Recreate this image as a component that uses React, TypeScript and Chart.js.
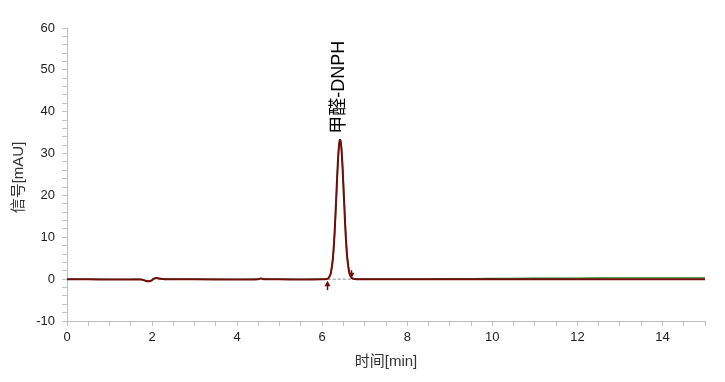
import React, { useEffect, useRef } from "react";
import { Chart, registerables } from "chart.js";

Chart.register(...registerables);

// retention time [min]
const times = [
  0, 0.5, 1.0, 1.5, 1.75, 1.82, 1.9, 1.97, 2.03, 2.1, 2.18, 2.3, 3.0, 4.0, 4.5, 4.56, 4.62, 5.0, 5.5,
  6.0, 6.1, 6.15, 6.2, 6.25, 6.28, 6.3, 6.33, 6.35, 6.37, 6.39, 6.41, 6.42, 6.43, 6.45, 6.47, 6.49,
  6.51, 6.54, 6.56, 6.59, 6.64, 6.69, 6.75, 7.0, 8.0, 9.0, 10.0, 11.0, 12.0, 13.0, 14.0, 15.0,
];

// signal [mAU], dark red trace
const signalRed = [
  0, -0.05, -0.1, -0.1, -0.1, -0.3, -0.5, -0.4, 0.0, 0.25, 0.1, 0.0, -0.05, -0.1, 0.0, 0.15, 0.0, -0.05, -0.1,
  -0.05, 0, 0.27, 1.36, 4.93, 9.12, 12.9, 19.5, 24.1, 28.2, 31.4, 33.1, 33.3, 33.1, 31.4, 28.2, 24.1,
  19.5, 12.9, 9.1, 4.9, 1.4, 0.3, 0.05, 0.0, 0.0, 0.0, -0.05, -0.05, -0.05, 0.0, -0.05, -0.05,
];

// signal [mAU], green trace
const signalGreen = [
  0, -0.02, -0.05, -0.05, -0.05, -0.25, -0.45, -0.35, 0.05, 0.3, 0.15, 0.05, 0.0, -0.05, 0.05, 0.2, 0.05, 0.0, -0.05,
  0.0, 0.03, 0.24, 1.25, 4.6, 8.6, 12.3, 18.8, 23.5, 27.7, 31.1, 33.0, 33.3, 33.2, 31.9, 28.9, 25.0,
  20.4, 13.7, 9.8, 5.4, 1.6, 0.35, 0.08, 0.05, 0.05, 0.1, 0.15, 0.2, 0.25, 0.3, 0.3, 0.3,
];

const peakName = "甲醛-DNPH";
const peakApexTime = 6.42;
const peakApexValue = 33.3;
const peakStartTime = 6.13;
const peakEndTime = 6.69;

const xTitle = "时间[min]";
const yTitle = "信号[mAU]";

const FONT = "'Liberation Sans', Arial, 'Noto Sans CJK SC', sans-serif";

export default function App() {
  const ref = useRef<HTMLCanvasElement | null>(null);

  useEffect(() => {
    if (!ref.current) return;
    const red = "rgb(115,12,12)";
    const overlay = {
      id: "overlay",
      beforeDatasetsDraw(chart: any) {
        const ctx = chart.ctx;
        const x = chart.scales.x;
        const y = chart.scales.y;
        ctx.save();
        ctx.strokeStyle = "#888";
        ctx.lineWidth = 1;
        ctx.setLineDash([3, 2]);
        ctx.beginPath();
        ctx.moveTo(x.getPixelForValue(peakStartTime), y.getPixelForValue(0));
        ctx.lineTo(x.getPixelForValue(peakEndTime), y.getPixelForValue(0));
        ctx.stroke();
        ctx.restore();
      },
      afterDraw(chart: any) {
        const ctx = chart.ctx;
        const x = chart.scales.x;
        const y = chart.scales.y;
        const area = chart.chartArea;
        ctx.save();
        // axis titles
        ctx.fillStyle = "#333";
        ctx.font = `15px ${FONT}`;
        ctx.textAlign = "center";
        ctx.textBaseline = "middle";
        ctx.fillText(xTitle, (area.left + area.right) / 2, 362);
        ctx.save();
        ctx.translate(19, (area.top + area.bottom) / 2 + 3);
        ctx.rotate(-Math.PI / 2);
        ctx.fillText(yTitle, 0, 0);
        ctx.restore();

        // peak label
        const px = x.getPixelForValue(peakApexTime);
        const py = y.getPixelForValue(peakApexValue);
        ctx.save();
        ctx.fillStyle = "#000";
        ctx.font = `18px ${FONT}`;
        ctx.translate(px - 1, py - 6);
        ctx.rotate(-Math.PI / 2);
        ctx.textAlign = "left";
        ctx.textBaseline = "middle";
        ctx.fillText(peakName, 0, 0);
        ctx.restore();

        // peak start / end markers
        const y0 = y.getPixelForValue(0);
        ctx.strokeStyle = red;
        ctx.fillStyle = red;
        ctx.lineWidth = 1.5;
        const sx = Math.round(x.getPixelForValue(peakStartTime)) - 0.5;
        ctx.beginPath();
        ctx.moveTo(sx, y0 + 11);
        ctx.lineTo(sx, y0 + 5);
        ctx.stroke();
        ctx.beginPath();
        ctx.moveTo(sx, y0 + 1.5);
        ctx.lineTo(sx - 3, y0 + 7);
        ctx.lineTo(sx + 3, y0 + 7);
        ctx.closePath();
        ctx.fill();
        const ex = Math.round(x.getPixelForValue(peakEndTime)) - 0.5;
        ctx.beginPath();
        ctx.moveTo(ex, y0 - 9);
        ctx.lineTo(ex, y0 - 4);
        ctx.stroke();
        ctx.beginPath();
        ctx.moveTo(ex, y0 - 1);
        ctx.lineTo(ex - 3, y0 - 6.5);
        ctx.lineTo(ex + 3, y0 - 6.5);
        ctx.closePath();
        ctx.fill();
        ctx.restore();
      },
    };

    const chart = new Chart(ref.current, {
      type: "line",
      data: {
        datasets: [
          {
            data: times.map((t, i) => ({ x: t, y: signalRed[i] })),
            borderColor: red,
            borderWidth: 2,
            pointRadius: 0,
            tension: 0.3,
            order: 0,
          },
          {
            data: times.map((t, i) => ({ x: t, y: signalGreen[i] })),
            borderColor: "rgb(30,130,30)",
            borderWidth: 1.4,
            pointRadius: 0,
            tension: 0.3,
            order: 1,
          },
        ],
      },
      options: {
        animation: false,
        responsive: false,
        events: [],
        layout: { padding: { left: 0, top: 28, right: 20, bottom: 0 } },
        plugins: { legend: { display: false }, tooltip: { enabled: false } },
        scales: {
          x: {
            type: "linear",
            min: 0,
            max: 15,
            afterFit: (s: any) => {
              s.height = 61;
            },
            ticks: {
              stepSize: 0.5,
              autoSkip: false,
              maxRotation: 0,
              padding: 4,
              color: "#222",
              font: { family: FONT, size: 13 },
              callback: (v: any) => (Math.abs(Number(v) % 2) < 1e-9 ? String(v) : ""),
            },
            grid: { drawOnChartArea: false, drawTicks: true, tickLength: 5, color: "#c4c4c4" },
            border: { color: "#bdbdbd" },
          },
          y: {
            type: "linear",
            min: -10,
            max: 60,
            afterFit: (s: any) => {
              s.width = 67;
            },
            ticks: {
              stepSize: 2,
              autoSkip: false,
              padding: 7,
              color: "#222",
              font: { family: FONT, size: 13 },
              callback: (v: any) => (Math.abs(Number(v) % 10) < 1e-9 ? String(v) : ""),
            },
            grid: { drawOnChartArea: false, drawTicks: true, tickLength: 5, color: "#c4c4c4" },
            border: { color: "#bdbdbd" },
          },
        },
      },
      plugins: [overlay],
    });
    return () => chart.destroy();
  }, []);

  return (
    <div style={{ position: "fixed", left: 0, top: 0, width: 725, height: 382, background: "#fff" }}>
      <canvas ref={ref} width={725} height={382} />
    </div>
  );
}
